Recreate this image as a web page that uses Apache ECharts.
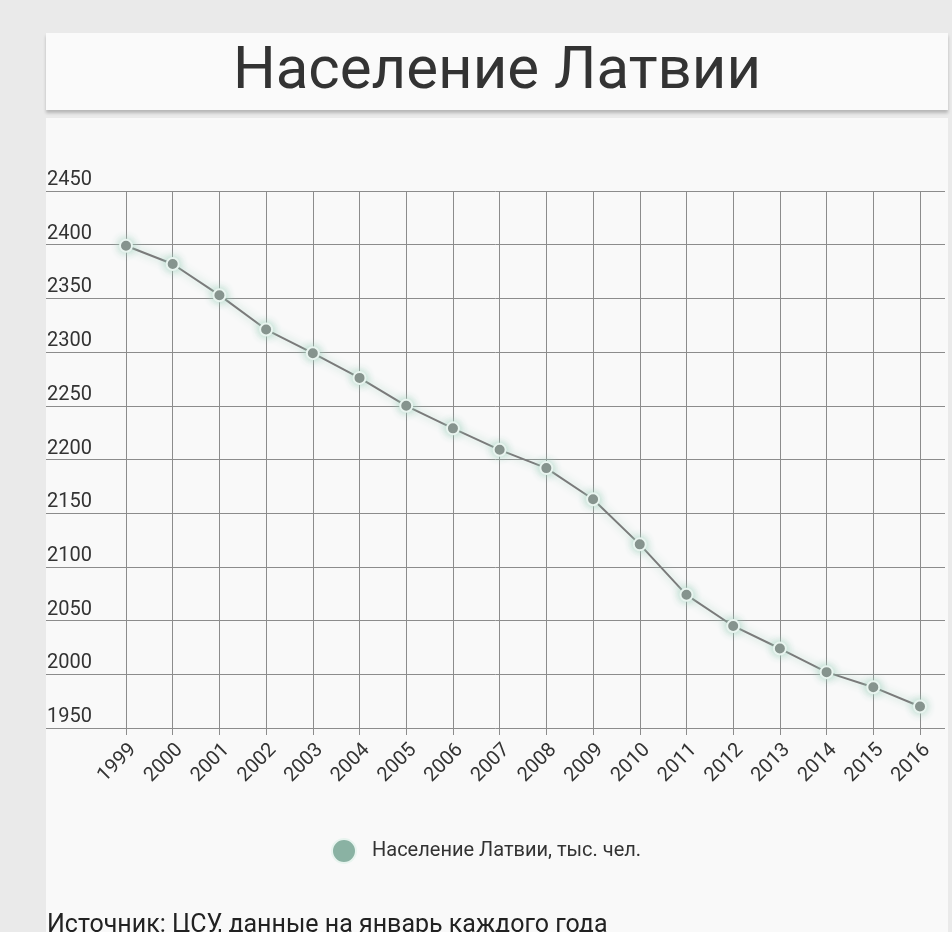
<!DOCTYPE html>
<html>
<head>
<meta charset="utf-8">
<title>Население Латвии</title>
<script src="https://cdn.jsdelivr.net/npm/echarts@6/dist/echarts.min.js"></script>
<style>
  html, body { margin: 0; padding: 0; background: #eaeaea; }
  #chart { width: 952px; height: 932px; }
</style>
</head>
<body>
<div id="chart"></div>
<script>
var years = ['1999', '2000', '2001', '2002', '2003', '2004', '2005', '2006', '2007',
  '2008', '2009', '2010', '2011', '2012', '2013', '2014', '2015', '2016'];
// население, тыс. чел. (на январь)
var population = [2399, 2382, 2353, 2321, 2299, 2276, 2250, 2229, 2209,
  2192, 2163, 2121, 2074, 2045, 2024, 2002, 1988, 1970];
var yMin = 1950;
var yMax = 2450;
var yStep = 50;
var seriesName = 'Население Латвии, тыс. чел.';
var chartTitle = 'Население Латвии';
var sourceNote = 'Источник: ЦСУ, данные на январь каждого года';

var font = 'Roboto, "Noto Sans", sans-serif';
var gridColor = '#8c8c8c';

var myChart = echarts.init(document.getElementById('chart'));
var option = {
  backgroundColor: '#eaeaea',
  textStyle: { fontFamily: font },
  title: {
    text: chartTitle,
    left: 492,
    top: 38,
    textAlign: 'center',
    textStyle: { fontSize: 60, fontWeight: 'normal', color: '#333', fontFamily: font }
  },
  graphic: [
    { // карточка графика
      type: 'rect', z: -10, silent: true,
      shape: { x: 46, y: 118, width: 902, height: 830 },
      style: { fill: '#f9f9f9' }
    },
    { // плашка заголовка
      type: 'rect', z: -9, silent: true,
      shape: { x: 46, y: 33, width: 902, height: 77 },
      style: { fill: '#fafafa', shadowColor: 'rgba(0,0,0,0.22)', shadowBlur: 3, shadowOffsetY: 3 }
    },
    {
      type: 'text', silent: true,
      style: { text: sourceNote, x: 47, y: 913, fontSize: 25, fill: '#222', fontFamily: font }
    }
  ],
  legend: {
    left: 326,
    top: 833,
    icon: 'circle',
    itemWidth: 24,
    itemHeight: 24,
    textStyle: { fontSize: 20, color: '#333', fontFamily: font, padding: [0, 0, 0, 11] },
    data: [{ name: seriesName, itemStyle: { color: '#8ab2a3' } }]
  },
  grid: [
    { left: 46, right: 7, top: 191, bottom: 204 },   // горизонтальная сетка и подписи
    { left: 126, right: 32, top: 191, bottom: 204 }  // годы и линия
  ],
  xAxis: [
    { gridIndex: 0, type: 'value', show: false },
    {
      gridIndex: 1,
      type: 'category',
      boundaryGap: false,
      data: years,
      axisLine: { show: false },
      axisTick: { show: true, length: 7, lineStyle: { color: gridColor } },
      splitLine: { show: true, lineStyle: { color: gridColor, width: 1 } },
      axisLabel: {
        rotate: 45, margin: 12, fontSize: 20, color: '#333', interval: 0,
        verticalAlign: 'top', padding: [0, 0, 0, 0]
      }
    }
  ],
  yAxis: [
    {
      gridIndex: 0,
      type: 'value',
      min: yMin,
      max: yMax,
      interval: yStep,
      axisLine: { show: false },
      axisTick: { show: false },
      splitLine: { lineStyle: { color: gridColor, width: 1 } },
      axisLabel: {
        inside: true,
        margin: 1,
        verticalAlign: 'bottom',
        padding: [0, 0, 1, 0],
        fontSize: 20,
        color: '#333',
        formatter: function (v) { return String(v); }
      }
    },
    {
      gridIndex: 1,
      type: 'value',
      min: yMin,
      max: yMax,
      interval: yStep,
      show: false,
      splitLine: { show: false }
    }
  ],
  series: [{
    name: seriesName,
    type: 'line',
    xAxisIndex: 1,
    yAxisIndex: 1,
    data: population,
    symbol: 'circle',
    symbolSize: 12,
    lineStyle: {
      color: '#7a7a7a',
      width: 2,
      shadowColor: 'rgba(160, 210, 190, 0.9)',
      shadowBlur: 9
    },
    itemStyle: {
      color: '#7f8381',
      borderColor: '#e8f4ef',
      borderWidth: 2,
      shadowColor: 'rgba(160, 210, 190, 0.9)',
      shadowBlur: 9
    },
    emphasis: { disabled: true },
    animation: false
  }]
};
myChart.setOption(option);
</script>
</body>
</html>
